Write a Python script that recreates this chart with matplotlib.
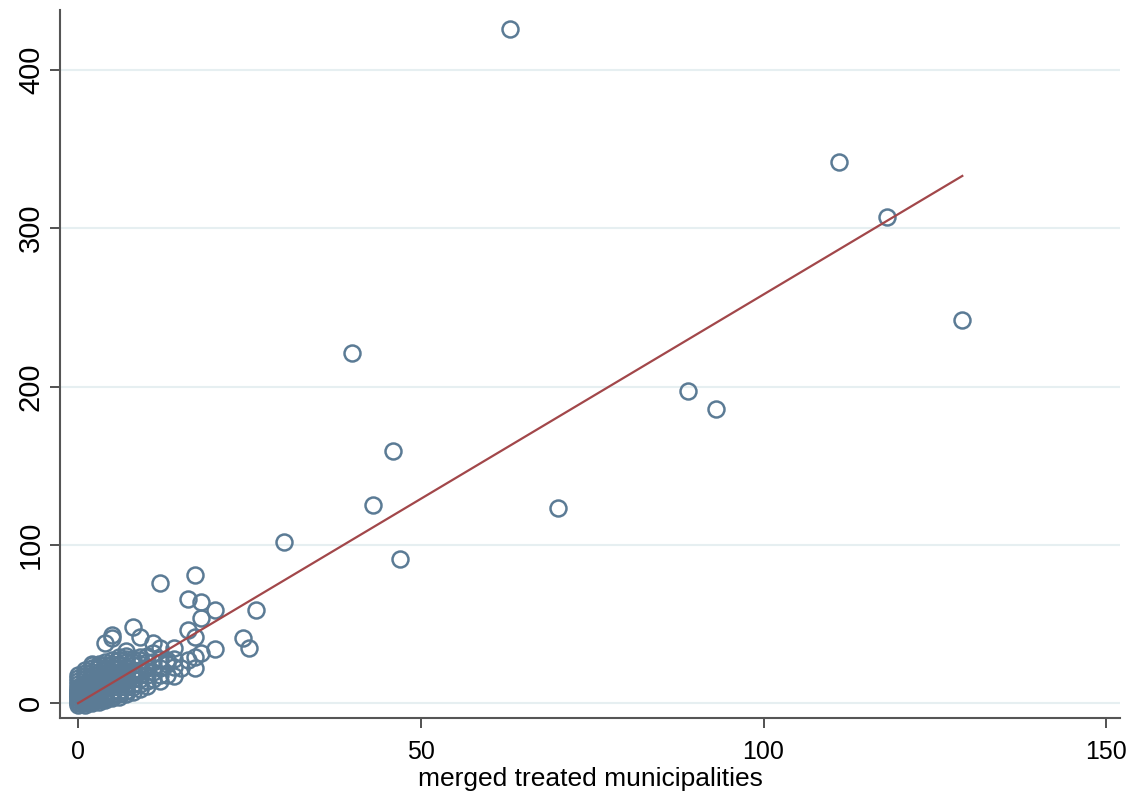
import numpy as np
import matplotlib
matplotlib.use("Agg")
import matplotlib.pyplot as plt

plt.rcParams['font.family'] = ['Liberation Sans', 'DejaVu Sans']

# large, clearly separated observations
out_x = [63, 111, 118, 129, 89, 93, 40, 46, 43, 70, 47, 30]
out_y = [426, 342, 307, 242, 197, 186, 221, 159, 125, 123, 91, 102]

# dense cluster near the origin
clu_x = ([0]*16 + [1]*19 + [2]*20 + [3]*18 + [4]*17 + [5]*16 + [6]*14
         + [7]*13 + [8]*11 + [9]*9 + [10]*7 + [11]*5 + [12]*6 + [13]*3
         + [14]*4 + [15] + [16]*3 + [17]*4 + [18]*3 + [20]*2 + [24, 25, 26])
clu_y = ([-1, 0, 1, 2, 3, 4, 5, 6, 7, 8, 9, 10, 12, 14, 16, 18]
         + [-1, 0, 1, 2, 3, 4, 5, 6, 7, 8, 9, 10, 11, 12, 13, 15, 17, 19, 21]
         + [0, 1, 2, 3, 4, 5, 6, 7, 8, 9, 10, 11, 12, 14, 16, 18, 20, 22, 24, 25]
         + [1, 2, 3, 4, 5, 6, 7, 8, 10, 11, 12, 14, 15, 18, 20, 22, 24, 25]
         + [2, 3, 4, 5, 6, 7, 9, 11, 13, 15, 16, 19, 21, 22, 24, 26, 38]
         + [3, 4, 6, 8, 10, 12, 14, 16, 17, 20, 22, 23, 25, 27, 41, 43]
         + [4, 6, 8, 10, 12, 14, 16, 18, 19, 22, 24, 25, 27, 29]
         + [6, 8, 10, 12, 14, 17, 20, 22, 23, 26, 28, 30, 33]
         + [7, 10, 12, 15, 18, 20, 21, 24, 26, 28, 48]
         + [9, 12, 15, 18, 21, 25, 27, 29, 42]
         + [11, 14, 18, 22, 26, 30, 23]
         + [15, 20, 26, 32, 38]
         + [14, 18, 22, 28, 35, 76]
         + [18, 25, 27]
         + [17, 23, 28, 35]
         + [22]
         + [27, 46, 66]
         + [22, 29, 42, 81]
         + [32, 54, 64]
         + [34, 59]
         + [41, 35, 59])

# fitted line end points
fit_x = [0, 129]
fit_y = [0, 333]

x = clu_x + out_x
y = clu_y + out_y

fig = plt.figure(figsize=(11.37, 8.07), dpi=100)
ax = fig.add_axes([0.053, 0.110, 0.932, 0.878])

for v in [0, 100, 200, 300, 400]:
    ax.axhline(v, color='#e6eff1', lw=1.5, zorder=0)

ax.plot(x, y, 'o', mfc='none', mec='#5b7b95', ms=11.5, mew=1.8, zorder=2)
ax.plot(fit_x, fit_y, color='#a2474a', lw=1.6, zorder=3)

ax.set_xlim(-2.6, 152)
ax.set_ylim(-9.5, 438)
ax.set_xticks([0, 50, 100, 150])
ax.set_yticks([0, 100, 200, 300, 400])
ax.spines['top'].set_visible(False)
ax.spines['right'].set_visible(False)
for s in ['left', 'bottom']:
    ax.spines[s].set_color('#555555')
    ax.spines[s].set_linewidth(1.5)
ax.tick_params(axis='both', length=7, width=1.2, color='#333333')
ax.tick_params(axis='x', labelsize=18, pad=9)
ax.tick_params(axis='y', labelsize=21, pad=4)
for lab in ax.get_yticklabels():
    lab.set_rotation(90)
    lab.set_va('center')
ax.set_xlabel("merged treated municipalities", fontsize=19, labelpad=2)

fig.savefig("out.png", dpi=100)
